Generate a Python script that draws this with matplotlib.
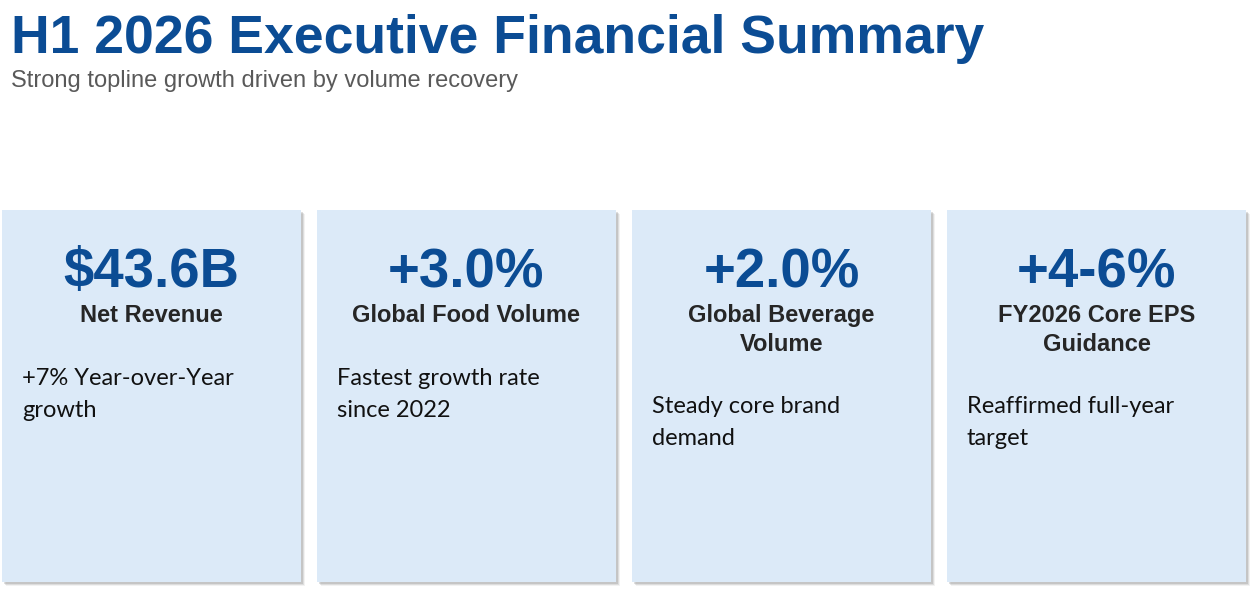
import matplotlib.pyplot as plt
from matplotlib.patches import Rectangle

# Data
kpi_values = ['$43.6B', '+3.0%', '+2.0%', '+4-6%']
kpi_labels = ['Net Revenue', 'Global Food Volume', 'Global Beverage\nVolume', 'FY2026 Core EPS\nGuidance']
kpi_notes = ['+7% Year-over-Year\ngrowth', 'Fastest growth rate\nsince 2022',
             'Steady core brand\ndemand', 'Reaffirmed full-year\ntarget']

title = 'H1 2026 Executive Financial Summary'
subtitle = 'Strong topline growth driven by volume recovery'

W, H = 1259, 593
fig = plt.figure(figsize=(W / 100, H / 100), dpi=100)
ax = fig.add_axes([0, 0, 1, 1])
ax.set_xlim(0, W)
ax.set_ylim(H, 0)
ax.axis('off')

blue = '#0B4C94'
card_fill = '#DCEAF8'

ax.text(11, 53, title, fontsize=38.5, fontweight='bold', color=blue,
        family='Liberation Sans', va='baseline', ha='left')
ax.text(11, 87, subtitle, fontsize=17, color='#595959',
        family='Liberation Sans', va='baseline', ha='left')

card_left = 2
card_w = 299
card_step = 315
card_top = 210
card_bot = 582

for i, (val, lab, note) in enumerate(zip(kpi_values, kpi_labels, kpi_notes)):
    x0 = card_left + i * card_step
    # soft shadow
    for off, a in [(4, 0.10), (3, 0.18), (2, 0.25)]:
        ax.add_patch(Rectangle((x0 + off, card_top + off), card_w, card_bot - card_top,
                               facecolor='#808080', edgecolor='none', alpha=a))
    ax.add_patch(Rectangle((x0, card_top), card_w, card_bot - card_top,
                           facecolor=card_fill, edgecolor='none'))
    cx = x0 + card_w / 2
    ax.text(cx, 287, val, fontsize=39.3, fontweight='bold', color=blue,
            family='Liberation Sans', ha='center', va='baseline')
    lab_lines = lab.split('\n')
    for j, line in enumerate(lab_lines):
        ax.text(cx, 322 + j * 29, line, fontsize=17, fontweight='bold', color='#262626',
                family='Liberation Sans', ha='center', va='baseline')
    y_note = 385 + (len(lab_lines) - 1) * 28
    for j, line in enumerate(note.split('\n')):
        ax.text(x0 + 20, y_note + j * 32, line, fontsize=17, color='#111111',
                family='Lato', ha='left', va='baseline')

fig.savefig('out.png', dpi=100, facecolor='white')
